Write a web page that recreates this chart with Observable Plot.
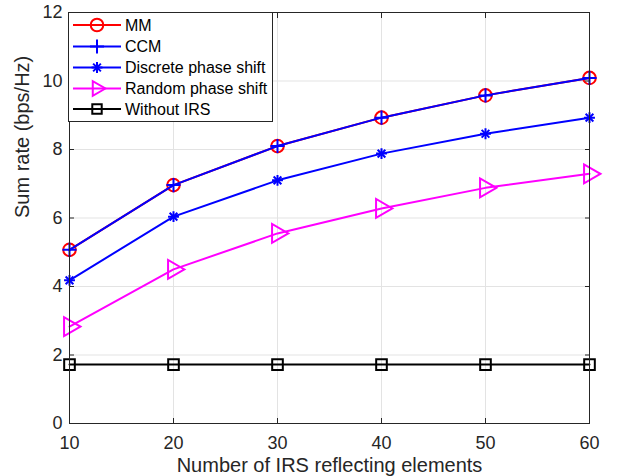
<!DOCTYPE html>
<html><head><meta charset="utf-8">
<script src="https://cdn.jsdelivr.net/npm/d3@7"></script>
<script src="https://cdn.jsdelivr.net/npm/@observablehq/plot@0.6"></script>
<style>
html,body{margin:0;padding:0;background:#fff;}
#wrap{position:relative;width:618px;height:476px;font-family:"Liberation Sans",Arial,Helvetica,sans-serif;}
#legend{position:absolute;left:68px;top:12px;}
</style></head><body><div id="wrap"></div>
<script>
const elements = [10, 20, 30, 40, 50, 60];
const mm = [5.07, 6.96, 8.10, 8.93, 9.58, 10.09];
const ccm = [5.07, 6.96, 8.10, 8.93, 9.58, 10.09];
const discrete = [4.18, 6.04, 7.10, 7.88, 8.46, 8.93];
const random = [2.83, 4.50, 5.55, 6.28, 6.88, 7.29];
const withoutIRS = [1.72, 1.72, 1.72, 1.72, 1.72, 1.72];
const seriesNames = ["MM", "CCM", "Discrete phase shift", "Random phase shift", "Without IRS"];
const seriesColors = ["#ff0000", "#0000ff", "#0000ff", "#ff00ff", "#000000"];
const xTicks = [10, 20, 30, 40, 50, 60];
const yTicks = [0, 2, 4, 6, 8, 10, 12];
const xLabel = "Number of IRS reflecting elements";
const yLabel = "Sum rate (bps/Hz)";

const seriesValues = [mm, ccm, discrete, random, withoutIRS];
const rows = seriesNames.flatMap((s, i) => elements.map((x, j) => ({series: s, x, y: seriesValues[i][j]})));
const of = s => rows.filter(d => d.series === s);

const LW = 2;
const axisColor = "#262626";
const gridColor = "#e3e3e3";

const marks = [
  Plot.gridX(xTicks, {stroke: gridColor, strokeOpacity: 1}),
  Plot.gridY(yTicks, {stroke: gridColor, strokeOpacity: 1}),
];
const markerSpec = {
  "MM": [{symbol: "circle", r: 6.3}],
  "CCM": [{symbol: "plus", r: 4.6}],
  "Discrete phase shift": [{symbol: "plus", r: 3.6}, {symbol: "times", r: 3.6}],
  "Random phase shift": [{symbol: "triangle", r: 7.0, rotate: 90}],
  "Without IRS": [{symbol: "square", r: 6.0}]
};
seriesNames.forEach((s, i) => {
  marks.push(Plot.line(of(s), {x: "x", y: "y", stroke: seriesColors[i], strokeWidth: LW}));
  for (const m of markerSpec[s]) {
    marks.push(Plot.dot(of(s), {x: "x", y: "y", stroke: seriesColors[i], strokeWidth: LW, fill: "none", ...m}));
  }
});
marks.push(
  Plot.frame({stroke: axisColor, strokeWidth: 1}),
  Plot.axisX(xTicks, {anchor: "bottom", tickSize: -5, tickPadding: 18, fontSize: 18, fill: axisColor, stroke: axisColor, label: null}),
  Plot.axisX(xTicks, {anchor: "top", tickSize: -5, tickFormat: () => "", stroke: axisColor, label: null}),
  Plot.axisY(yTicks, {anchor: "left", tickSize: -5, tickPadding: 12, fontSize: 18, fill: axisColor, stroke: axisColor, label: null}),
  Plot.axisY(yTicks, {anchor: "right", tickSize: -5, tickFormat: () => "", stroke: axisColor, label: null}),
  Plot.text([xLabel], {frameAnchor: "bottom", dy: 42, fontSize: 20, fill: axisColor, lineAnchor: "middle"}),
  Plot.text([yLabel], {frameAnchor: "left", dx: -47, rotate: -90, fontSize: 20, fill: axisColor})
);

const chart = Plot.plot({
  width: 618, height: 476,
  marginLeft: 69, marginRight: 29, marginTop: 12, marginBottom: 53,
  x: {domain: [10, 60], type: "linear"},
  y: {domain: [0, 12], type: "linear"},
  style: {fontFamily: '"Liberation Sans", Arial, Helvetica, sans-serif', background: "#fff"},
  marks
});
const wrap = document.getElementById("wrap");
wrap.appendChild(chart);

// Legend overlay
const lw = 204, lh = 109;
const leg = d3.select(wrap).append("svg").attr("id", "legend").attr("width", lw + 1).attr("height", lh + 1)
  .style("font-family", '"Liberation Sans", Arial, Helvetica, sans-serif');
leg.append("rect").attr("x", 0.5).attr("y", 0.5).attr("width", lw).attr("height", lh)
  .attr("fill", "#fff").attr("stroke", axisColor).attr("stroke-width", 1);
const rowY = [13, 34.5, 55.5, 76.5, 97];
seriesNames.forEach((s, i) => {
  const g = leg.append("g").attr("transform", `translate(0,${rowY[i]})`);
  g.append("line").attr("x1", 5).attr("x2", 53).attr("y1", 0).attr("y2", 0)
    .attr("stroke", seriesColors[i]).attr("stroke-width", LW);
  for (const m of markerSpec[s]) {
    if (m.symbol === "circle") {
      g.append("circle").attr("cx", 29).attr("cy", 0).attr("r", m.r).attr("fill", "none")
        .attr("stroke", seriesColors[i]).attr("stroke-width", LW);
    } else {
      const type = {plus: d3.symbolPlus, times: d3.symbolTimes, triangle: d3.symbolTriangle2, square: d3.symbolSquare2}[m.symbol];
      g.append("path").attr("d", d3.symbol(type, m.r * m.r * Math.PI)())
        .attr("transform", `translate(29,0) rotate(${m.rotate || 0})`)
        .attr("fill", "none").attr("stroke", seriesColors[i]).attr("stroke-width", LW);
    }
  }
  g.append("text").attr("x", 57).attr("y", 0).attr("dy", "0.35em").attr("font-size", 16)
    .attr("fill", "#000").text(s);
});
</script>
</body></html>
